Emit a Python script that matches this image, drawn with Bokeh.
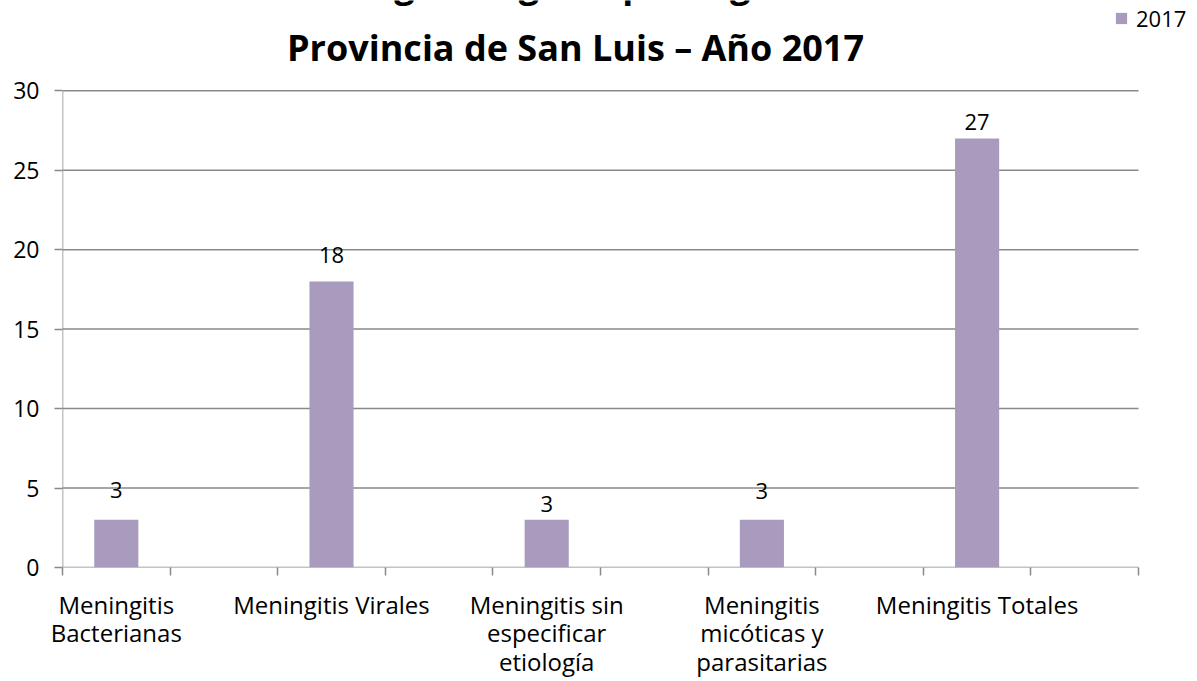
from bokeh.plotting import figure
from bokeh.models import Range1d, FixedTicker, Label, Legend, LegendItem, ColumnDataSource
from bokeh.core.properties import value
from bokeh.embed import file_html
from bokeh.resources import INLINE

# ---------------- data ----------------
categories = ["Meningitis\nBacterianas", "Meningitis Virales", "Meningitis sin\nespecificar\netiología",
              "Meningitis\nmicóticas y\nparasitarias", "Meningitis Totales"]
values_2017 = [3, 18, 3, 3, 27]
series_name = "2017"
y_ticks = [0, 5, 10, 15, 20, 25, 30]
title_line1 = "Casos de Meningitis según tipo de germen – Totales"
title_line2 = "Provincia de San Luis – Año 2017"

# ---------------- layout / style ----------------
W, H = 1197, 681
PLOT_L, PLOT_R, PLOT_T, PLOT_B = 62, 1138, 91, 572   # value-axis area in px
FONT = "Open Sans"
GRID = "#898989"
BAR = "#A99BBD"
label_offsets_px = [-30, -26, -16, -29, -16]          # data-label nudges as placed in the source

n_slots = 2 * len(categories)
ymax = y_ticks[-1]
px_per_y = (PLOT_B - PLOT_T) / ymax
px_per_x = (PLOT_R - PLOT_L) / n_slots


def ydata(py):
    return (PLOT_B - py) / px_per_y


def xdata(px):
    return (px - PLOT_L) / px_per_x


xpos = [2 * i + 0.5 for i in range(len(categories))]

p = figure(width=W, height=H, output_backend="svg", toolbar_location=None,
           x_range=Range1d(0, xdata(W)), y_range=Range1d(0, ydata(0)),
           min_border_left=PLOT_L, min_border_right=0, min_border_top=0,
           min_border_bottom=H - PLOT_B)
p.outline_line_color = None
p.background_fill_color = "white"
p.border_fill_color = "white"
p.xgrid.visible = False
p.ygrid.visible = False

# grid lines and value-axis line (limited to the value area, as in the source)
p.segment(x0=[0] * len(y_ticks), x1=[n_slots] * len(y_ticks), y0=y_ticks, y1=y_ticks,
          line_color=GRID, line_width=1.5)
p.segment(x0=[0], x1=[0], y0=[0], y1=[ymax], line_color=GRID, line_width=1.5)

src = ColumnDataSource(dict(x=xpos, top=values_2017, lab=[str(v) for v in values_2017],
                            off=label_offsets_px))
bars = p.vbar(x="x", top="top", width=0.41, source=src, fill_color=BAR, line_color=None)
p.text(x="x", y="top", text="lab", source=src, text_align="center", text_baseline="middle",
       y_offset="off", text_font=value(FONT), text_font_size="22px", text_color="black")

# x axis (category labels + slot ticks)
p.xaxis.ticker = FixedTicker(ticks=xpos, minor_ticks=list(range(n_slots + 1)))
p.xaxis.major_label_overrides = {x: c for x, c in zip(xpos, categories)}
p.xaxis.axis_line_color = None
p.xaxis.major_tick_line_color = None
p.xaxis.major_tick_out = 8
p.xaxis.major_tick_in = 0
p.xaxis.minor_tick_line_color = GRID
p.xaxis.minor_tick_line_width = 1.5
p.xaxis.minor_tick_out = 8
p.xaxis.minor_tick_in = 0
p.xaxis.major_label_standoff = 12
p.xaxis.major_label_text_font = FONT
p.xaxis.major_label_text_font_size = "24px"
p.xaxis.major_label_text_color = "black"
p.xaxis.major_label_text_line_height = 0.872

# y axis
p.yaxis.ticker = FixedTicker(ticks=y_ticks, minor_ticks=[])
p.yaxis.axis_line_color = None
p.yaxis.major_tick_line_color = GRID
p.yaxis.major_tick_line_width = 1.5
p.yaxis.major_tick_out = 8
p.yaxis.major_tick_in = 0
p.yaxis.major_label_standoff = 15
p.yaxis.major_label_text_font = FONT
p.yaxis.major_label_text_font_size = "23px"
p.yaxis.major_label_text_color = "black"

# title: two lines, the first one cut off by the top edge as in the source
for txt, mid in ((title_line1, -17), (title_line2, 47)):
    p.add_layout(Label(x=xdata(575), y=ydata(mid), text=txt, text_align="center",
                       text_baseline="middle", text_font=FONT, text_font_style="bold",
                       text_font_size="36px", text_color="black"))

legend = Legend(items=[LegendItem(label=series_name, renderers=[bars])],
                location=(1114 - PLOT_L, PLOT_B - 38),
                padding=0, margin=0, border_line_color=None, background_fill_alpha=0,
                glyph_width=14, glyph_height=14, label_standoff=8, label_height=30,
                label_text_font=FONT, label_text_font_size="22px", label_text_color="black")
p.add_layout(legend, "center")

open("out.html", "w").write(file_html(p, INLINE))
